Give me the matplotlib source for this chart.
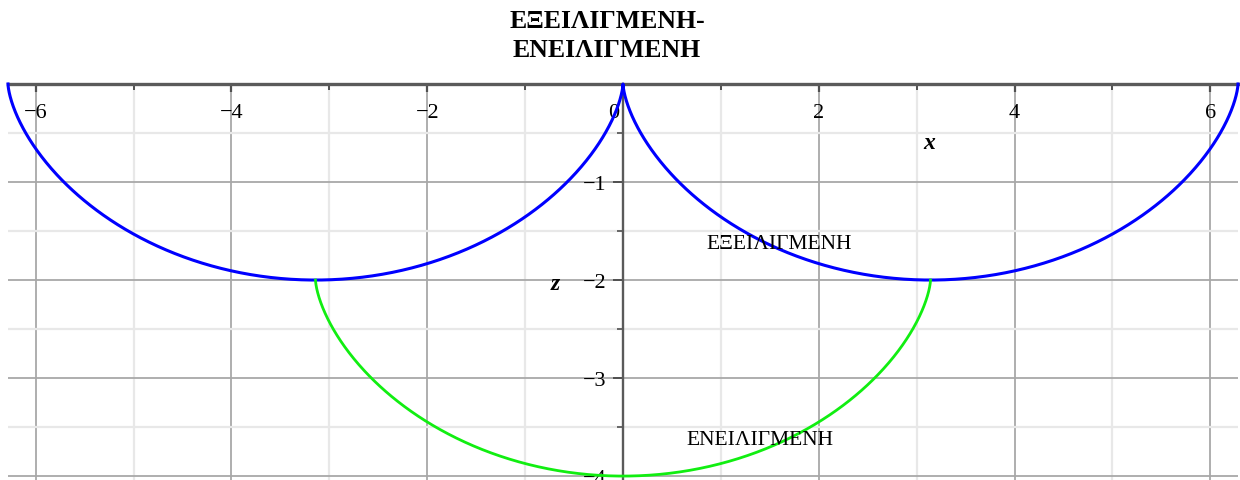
import numpy as np
import matplotlib
matplotlib.use("Agg")
import matplotlib.pyplot as plt
from matplotlib.ticker import MultipleLocator, FixedLocator
import matplotlib.transforms as mtransforms

# Cycloid (ΕΞΕΙΛΙΓΜΕΝΗ) and its involute cycloid (ΕΝΕΙΛΙΓΜΕΝΗ), rolling radius 1
radius = 1.0
evolute_t = np.linspace(-2 * np.pi, 2 * np.pi, 1201)
involute_t = np.linspace(-np.pi, np.pi, 601)

evolute_x = radius * (evolute_t - np.sin(evolute_t))
evolute_z = -radius * (1 - np.cos(evolute_t))
involute_x = radius * (involute_t + np.sin(involute_t))
involute_z = -radius * (3 + np.cos(involute_t))

title_text = "ΕΞΕΙΛΙΓΜΕΝΗ-\nΕΝΕΙΛΙΓΜΕΝΗ"
evolute_label = "ΕΞΕΙΛΙΓΜΕΝΗ"
involute_label = "ΕΝΕΙΛΙΓΜΕΝΗ"
x_ticks = [-6, -4, -2, 0, 2, 4, 6]
x_ticklabels = ["−6", "−4", "−2", "0", "2", "4", "6"]
z_ticks = [-1, -2, -3, -4]
z_ticklabels = ["−1", "−2", "−3", "−4"]

serif = "Liberation Serif"
W, H = 1240, 481
fig = plt.figure(figsize=(W / 100, H / 100), dpi=100)
ax = fig.add_axes([8 / W, 0.0, 1230 / W, 1 - 85 / H])

ax.set_xlim(-2 * np.pi, 2 * np.pi)
ax.set_ylim(-4.04, 0)

# grid
ax.xaxis.set_major_locator(FixedLocator(x_ticks))
ax.xaxis.set_minor_locator(MultipleLocator(1))
ax.yaxis.set_major_locator(FixedLocator([0] + z_ticks))
ax.yaxis.set_minor_locator(MultipleLocator(0.5))
ax.grid(which="major", color="#a8a8a8", linewidth=1.3, zorder=0)
ax.grid(which="minor", color="#e8e8e8", linewidth=1.6, zorder=0)
ax.set_axisbelow(True)

# axes through the origin
for s in ("top", "right"):
    ax.spines[s].set_visible(False)
ax.spines["bottom"].set_position(("data", 0))
ax.spines["left"].set_position(("data", 0))
ax.spines["bottom"].set_color("#5a5a5a")
ax.spines["bottom"].set_linewidth(2.4)
ax.spines["left"].set_color("#5a5a5a")
ax.spines["left"].set_linewidth(1.7)
ax.spines["bottom"].set_zorder(1)
ax.spines["left"].set_zorder(1)

ax.tick_params(axis="x", which="major", direction="out", length=6, width=1.6,
               color="#505050", pad=8, labelsize=16)
ax.tick_params(axis="x", which="minor", direction="out", length=4, width=1.4,
               color="#505050")
ax.tick_params(axis="y", which="major", direction="out", length=7, width=1.4,
               color="#505050", pad=5, labelsize=16)
ax.tick_params(axis="y", which="minor", direction="out", length=4, width=1.2,
               color="#505050")

ax.set_xticklabels(x_ticklabels, fontfamily=serif)
ax.set_yticklabels([""] + z_ticklabels, fontfamily=serif)
for lab in ax.get_xticklabels():
    if lab.get_text() == "0":
        lab.set_horizontalalignment("right")
        lab.set_transform(lab.get_transform() + mtransforms.ScaledTranslation(-3 / 72, 0, fig.dpi_scale_trans))

# curves
ax.plot(evolute_x, evolute_z, color="#0000ff", linewidth=2.2, zorder=3, clip_on=False)
ax.plot(involute_x, involute_z, color="#11ee11", linewidth=2.0, zorder=3)

# labels
ax.text(1.6, -1.63, evolute_label, fontfamily=serif, fontsize=15.5,
        ha="center", va="center", zorder=4)
ax.text(1.4, -3.63, involute_label, fontfamily=serif, fontsize=15.5,
        ha="center", va="center", zorder=4)
ax.text(3.13, -0.6, "x", fontfamily=serif, fontsize=17, fontstyle="italic",
        fontweight="bold", ha="center", va="center")
ax.text(-0.69, -2.04, "z", fontfamily=serif, fontsize=17, fontstyle="italic",
        fontweight="bold", ha="center", va="center")

fig.text(607 / W, 1 - 36 / H, title_text, fontfamily=serif, fontsize=18.5,
         fontweight="bold", ha="center", va="center", linespacing=1.3)

fig.savefig("out.png", dpi=100, facecolor="white")
